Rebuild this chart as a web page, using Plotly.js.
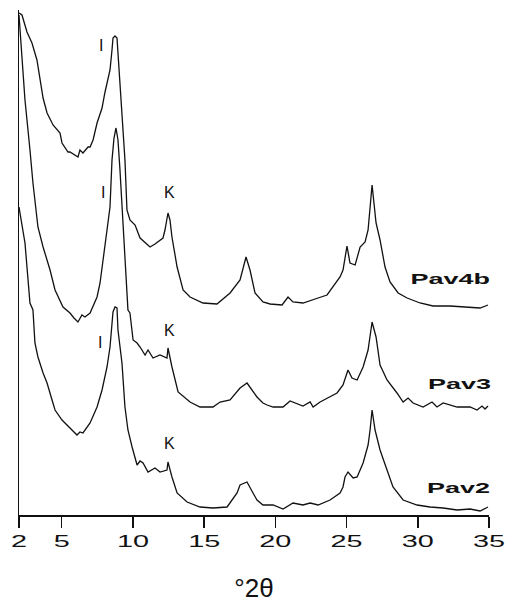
<!DOCTYPE html>
<html>
<head>
<meta charset="utf-8">
<script src="https://cdn.plot.ly/plotly-3.0.1.min.js"></script>
<style>
  html, body { margin: 0; padding: 0; background: #fff; }
  #chart { width: 513px; height: 603px; }
  /* the original figure uses a horizontally wide sans-serif face */
  #chart g.xtick,
  #chart g.annotation[data-index="0"],
  #chart g.annotation[data-index="1"],
  #chart g.annotation[data-index="2"] {
    transform: scaleX(1.8);
    transform-box: fill-box;
    transform-origin: center;
  }
</style>
</head>
<body>
<div id="chart"></div>
<script>
// ---- Data (°2θ vs. relative intensity, traces stacked as in the figure) ----
const sampleNames = ['Pav4b', 'Pav3', 'Pav2'];

const pav4bTheta = [2.00,2.21,2.56,2.91,3.26,3.62,3.69,3.97,4.39,4.88,5.02,5.44,5.58,6.14,6.28,6.49,6.85,6.99,7.20,7.48,7.83,8.04,8.39,8.53,8.60,8.74,8.88,8.95,9.23,9.44,9.58,9.79,10.15,10.50,11.20,11.55,12.11,12.25,12.46,12.60,12.74,13.10,13.52,14.01,14.92,15.90,16.82,17.52,17.94,18.22,18.57,19.13,19.63,20.47,20.89,21.24,21.94,22.44,23.00,23.63,24.05,24.54,24.75,25.03,25.24,25.60,25.95,26.30,26.51,26.79,27.07,27.35,27.70,28.05,28.62,29.25,30.16,31.07,32.27,33.46,34.37,34.93];
const pav4bCounts = [502,500,483,472,455,425,417,402,390,382,372,363,363,358,365,362,368,368,375,392,407,423,445,465,477,479,477,462,395,355,305,295,290,277,268,271,277,285,302,295,278,248,225,218,212,211,222,235,258,245,222,213,211,210,218,213,212,214,217,220,228,238,245,269,252,250,268,273,285,330,292,275,248,233,222,217,212,209,209,208,207,210];

const pav3Theta = [2.00,2.42,2.77,2.98,3.33,3.69,4.18,4.53,5.09,5.58,5.86,6.14,6.42,6.63,6.99,7.48,7.69,7.90,8.18,8.39,8.53,8.67,8.81,8.95,9.09,9.65,9.79,10.01,10.29,10.50,10.85,11.06,11.41,11.90,12.39,12.46,12.74,13.17,14.01,14.71,15.62,16.12,16.82,17.52,18.01,18.71,19.13,19.42,19.84,20.54,21.03,21.94,22.44,22.65,23.14,23.84,24.33,24.75,25.10,25.38,25.74,26.16,26.51,26.79,27.07,27.35,27.84,28.54,28.97,29.32,29.67,30.37,31.00,31.35,31.78,32.76,33.67,34.16,34.51,34.72,34.93];
const pav3Counts = [500,415,365,332,288,268,245,225,208,202,197,193,200,198,202,218,232,255,282,308,355,377,387,375,345,205,202,175,172,168,160,165,157,160,157,167,148,123,113,108,108,113,115,127,132,118,112,110,108,108,114,109,113,108,113,118,122,130,145,137,135,148,165,193,178,150,135,122,113,117,112,108,113,108,112,108,108,105,109,106,109];

const pav2Theta = [2.00,2.28,2.42,2.77,2.98,3.12,3.33,3.69,3.97,4.32,4.53,5.02,5.37,5.72,6.07,6.28,6.49,6.99,7.48,7.83,8.18,8.39,8.60,8.74,8.88,8.95,9.23,9.44,9.65,9.94,10.29,10.50,10.71,11.06,11.55,11.90,12.39,12.46,12.74,13.10,13.80,14.71,15.62,16.61,17.31,17.52,18.01,18.43,18.71,19.13,19.84,20.54,21.24,21.94,22.44,23.00,23.84,24.54,24.75,24.89,25.10,25.46,25.74,26.16,26.51,26.65,26.79,27.00,27.35,27.84,28.26,28.97,29.95,30.86,31.78,32.76,33.67,34.37,34.93];
const pav2Counts = [308,282,272,212,205,172,158,142,132,115,105,95,90,85,80,83,82,92,108,125,148,168,203,208,207,185,152,108,85,68,50,54,52,43,47,43,45,53,38,22,13,8,7,8,22,30,33,22,15,10,10,6,12,10,12,10,15,22,28,38,43,37,38,52,70,85,105,85,65,45,28,15,10,8,7,5,6,4,8];

const xTickValues = [2, 5, 10, 15, 20, 25, 30, 35];
const xTickLabels = ['2', '5', '10', '15', '20', '25', '30', '35'];

const peakLabels = ['I', 'I', 'K', 'I', 'K', 'K'];

// ---- Chart ----
const lineStyle = { color: '#111111', width: 1.3 };
const traces = [
  { x: pav4bTheta, y: pav4bCounts, name: sampleNames[0] },
  { x: pav3Theta, y: pav3Counts, name: sampleNames[1] },
  { x: pav2Theta, y: pav2Counts, name: sampleNames[2] }
].map(t => Object.assign(t, { type: 'scatter', mode: 'lines', line: lineStyle, hoverinfo: 'x+y+name' }));

const sansFont = 'Liberation Sans, Arial, Helvetica, sans-serif';
const nameFont = { family: sansFont, size: 15, color: '#111', weight: 'bold' };
const peakFont = { family: sansFont, size: 16, color: '#111' };

const namePos = [[32.27, 237], [32.90, 132], [32.83, 28]];
const peakPos = [[7.76, 470], [7.90, 323], [12.60, 323], [7.69, 173], [12.60, 185], [12.60, 72]];

const annotations = [];
sampleNames.forEach((n, i) => annotations.push({
  x: namePos[i][0], y: namePos[i][1], xref: 'x', yref: 'y', text: n,
  showarrow: false, xanchor: 'center', yanchor: 'middle', font: nameFont
}));
peakLabels.forEach((t, i) => annotations.push({
  x: peakPos[i][0], y: peakPos[i][1], xref: 'x', yref: 'y', text: t,
  showarrow: false, xanchor: 'center', yanchor: 'middle', font: peakFont
}));

const layout = {
  width: 513, height: 603,
  margin: { l: 19, r: 24, t: 10, b: 88, pad: 0 },
  paper_bgcolor: '#ffffff', plot_bgcolor: '#ffffff',
  showlegend: false,
  xaxis: {
    range: [2, 35], showgrid: false, zeroline: false,
    showline: true, linecolor: '#111', linewidth: 1.5,
    ticks: 'outside', ticklen: 11, tickwidth: 1.5, tickcolor: '#111',
    tickmode: 'array', tickvals: xTickValues, ticktext: xTickLabels,
    ticklabelstandoff: 0,
    tickfont: { family: sansFont, size: 16, color: '#111' },
    title: { text: '°2θ', font: { family: sansFont, size: 26, color: '#111' }, standoff: 31 }
  },
  yaxis: {
    range: [0, 505], showgrid: false, zeroline: false,
    showline: true, linecolor: '#111', linewidth: 1.5,
    ticks: '', showticklabels: false
  },
  annotations: annotations
};

Plotly.newPlot('chart', traces, layout, { displayModeBar: false, staticPlot: true });
</script>
</body>
</html>
